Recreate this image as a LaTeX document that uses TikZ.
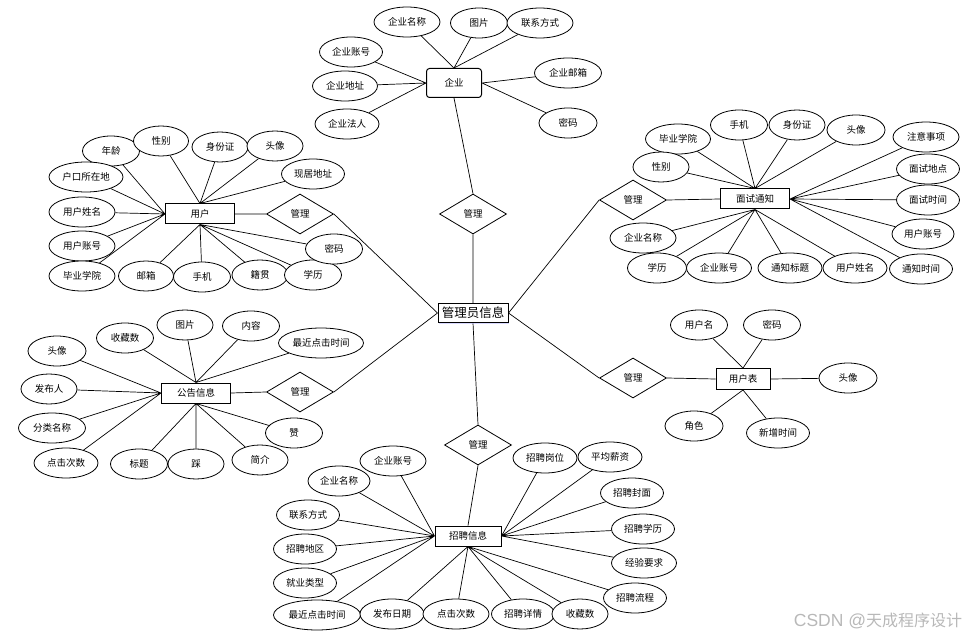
\documentclass[tikz,border=0pt]{standalone}
\usepackage{fontspec}
\setmainfont{Noto Sans CJK SC}
\newfontfamily\wmlatin{Liberation Sans}
\usetikzlibrary{shapes.geometric,backgrounds,shadows}

\begin{document}
\begin{tikzpicture}[x=1pt,y=-1pt,
  font=\fontsize{9.5}{10}\selectfont,
  attr/.style={ellipse,draw,fill=white,line width=0.8pt,inner sep=0pt,
              minimum width=#1,minimum height=30},
  attr/.default=57,
  ent/.style={rectangle,draw,fill=white,line width=1pt,inner sep=1pt,
              minimum width=69,minimum height=20},
  rel/.style={diamond,draw,fill=white,line width=0.8pt,inner sep=0pt,
              minimum width=67,minimum height=40},
  link/.style={line width=0.7pt}
]
\useasboundingbox (0,0) rectangle (975,639);

% Centre
\node[ent,minimum width=70,minimum height=19,font=\fontsize{12.5}{13}\selectfont,
      drop shadow={shadow xshift=1pt,shadow yshift=-1pt,fill=blue!25,opacity=0.6}]
      (admin) at (473,313) {管理员信息};

% Enterprise
\node[ent,rounded corners=3pt,minimum width=55,minimum height=29] (qy) at (454,83) {企业};
\node[attr=66] (qymc) at (407,22)  {企业名称};
\node[attr]    (qytp) at (479,23)  {图片};
\node[attr=66] (qylx) at (540,23)  {联系方式};
\node[attr=63] (qyzh) at (351,52)  {企业账号};
\node[attr=65] (qydz) at (345,86)  {企业地址};
\node[attr=64] (qyfr) at (347,124) {企业法人};
\node[attr=67] (qyyx) at (568,73)  {企业邮箱};
\node[attr=58] (qymm) at (568,123) {密码};
\node[rel]     (glqy) at (473,214) {管理};

% User
\node[ent] (yh) at (200,214) {用户};
\node[attr]    (yhnl)  at (111,151) {年龄};
\node[attr=55] (yhxb)  at (161,141) {性别};
\node[attr=56] (yhsfz) at (220,147) {身份证};
\node[attr=56] (yhtx)  at (275,146) {头像};
\node[attr=74] (yhhk)  at (86,177)  {户口所在地};
\node[attr=63] (yhxj)  at (313,174) {现居地址};
\node[attr=66] (yhxm)  at (82,212)  {用户姓名};
\node[attr=66] (yhzh)  at (82,246)  {用户账号};
\node[attr=66] (yhbx)  at (82,276)  {毕业学院};
\node[attr=55] (yhyx)  at (146,276) {邮箱};
\node[attr]    (yhsj)  at (202,277) {手机};
\node[attr=56] (yhjg)  at (260,275) {籍贯};
\node[attr]    (yhxl)  at (313,275) {学历};
\node[attr]    (yhmm)  at (334,249) {密码};
\node[rel]     (glyh)  at (300,214) {管理};

% Interview notice
\node[ent] (ms) at (755,199) {面试通知};
\node[attr=65] (msbx)  at (678,139) {毕业学院};
\node[attr]    (mssj)  at (739,125) {手机};
\node[attr=56] (mssfz) at (797,125) {身份证};
\node[attr=58] (mstx)  at (856,130) {头像};
\node[attr=66] (mszy)  at (926,137) {注意事项};
\node[attr=56] (msxb)  at (661,167) {性别};
\node[attr=63] (msdd)  at (928,169) {面试地点};
\node[attr=63] (mssx)  at (928,200) {面试时间};
\node[attr=62] (mszh)  at (923,234) {用户账号};
\node[attr=66] (msqy)  at (643,238) {企业名称};
\node[attr=59] (msxl)  at (657,268) {学历};
\node[attr=65] (msqz)  at (719,268) {企业账号};
\node[attr=64] (msbt)  at (790,268) {通知标题};
\node[attr=64] (msxm)  at (855,268) {用户姓名};
\node[attr=63] (mstz)  at (921,269) {通知时间};
\node[rel]     (glms)  at (633,200) {管理};

% Notice
\node[ent] (gg) at (196,393) {公告信息};
\node[attr=58] (ggtx)  at (57,351)  {头像};
\node[attr]    (ggsc)  at (125,338) {收藏数};
\node[attr=56] (ggtp)  at (185,325) {图片};
\node[attr]    (ggnr)  at (251,326) {内容};
\node[attr=85] (ggzj)  at (321,343) {最近点击时间};
\node[attr=56] (ggfb)  at (49,389)  {发布人};
\node[attr=67] (ggfl)  at (52,428)  {分类名称};
\node[attr=64] (ggdj)  at (66,463)  {点击次数};
\node[attr]    (ggbt)  at (139,464) {标题};
\node[attr=56] (ggcai) at (196,464) {踩};
\node[attr=56] (ggjj)  at (260,460) {简介};
\node[attr]    (ggzan) at (294,433) {赞};
\node[rel]     (glgg)  at (300,392) {管理};

% User table
\node[ent,minimum width=54,minimum height=21] (yhb) at (743,379) {用户表};
\node[attr]    (yhbm)  at (699,325) {用户名};
\node[attr]    (yhbmm) at (772,325) {密码};
\node[attr=58] (yhbtx) at (848,378) {头像};
\node[attr=58] (yhbjs) at (694,426) {角色};
\node[attr=63] (yhbxz) at (778,433) {新增时间};
\node[rel]     (glyhb) at (633,378) {管理};

% Recruitment
\node[ent,minimum width=66] (zp) at (468,536) {招聘信息};
\node[attr=66] (zpqz) at (393,461) {企业账号};
\node[attr=62] (zpqy) at (339,481) {企业名称};
\node[attr=64] (zpgw) at (545,458) {招聘岗位};
\node[attr=64] (zpxz) at (610,457) {平均薪资};
\node[attr=63] (zpfm) at (632,493) {招聘封面};
\node[attr=63] (zplx) at (308,515) {联系方式};
\node[attr=63] (zpxl) at (643,529) {招聘学历};
\node[attr=63] (zpdq) at (305,549) {招聘地区};
\node[attr=65] (zpjy) at (644,563) {经验要求};
\node[attr=63] (zplc) at (635,598) {招聘流程};
\node[attr=63] (zplb) at (305,583) {就业类型};
\node[attr=87] (zpzj) at (317,615) {最近点击时间};
\node[attr=64] (zprq) at (392,614) {发布日期};
\node[attr=66] (zpdj) at (456,614) {点击次数};
\node[attr=63] (zpxq) at (523,614) {招聘详情};
\node[attr=56] (zpsc) at (580,614) {收藏数};
\node[rel]     (glzp) at (478,445) {管理};

\node[text=black!28,font=\fontsize{16}{17}\selectfont] (wm) at (878,621)
     {{\wmlatin\fontsize{17.5}{18}\selectfont CSDN @}天成程序设计};

% Connectors
\begin{scope}[on background layer]
\draw[link] (qy.north) -- (qymc) (qy.north) -- (qytp) (qy.north) -- (qylx);
\draw[link] (qy.west) -- (qyzh) (qy.west) -- (qydz) (qy.west) -- (qyfr);
\draw[link] (qy.east) -- (qyyx) (qy.east) -- (qymm);
\draw[link] (qy.south) -- (glqy.north) (glqy.south) -- (admin.north);

\draw[link] (yh.west) -- (yhnl) (yh.west) -- (yhhk) (yh.west) -- (yhxm)
            (yh.west) -- (yhzh) (yh.west) -- (yhbx);
\draw[link] (yh.north) -- (yhxb) (yh.north) -- (yhsfz) (yh.north) -- (yhtx)
            (yh.north) -- (yhxj);
\draw[link] (yh.south) -- (yhyx) (yh.south) -- (yhsj) (yh.south) -- (yhjg)
            (yh.south) -- (yhxl) (yh.south) -- (yhmm);
\draw[link] (yh.east) -- (glyh.west) (glyh.east) -- (admin.west);

\draw[link] (ms.north) -- (msbx) (ms.north) -- (mssj) (ms.north) -- (mssfz)
            (ms.north) -- (mstx) (ms.north) -- (msxb);
\draw[link] (ms.east) -- (mszy) (ms.east) -- (msdd) (ms.east) -- (mssx)
            (ms.east) -- (mszh) (ms.east) -- (mstz);
\draw[link] (ms.south) -- (msqy) (ms.south) -- (msxl) (ms.south) -- (msqz)
            (ms.south) -- (msbt) (ms.south) -- (msxm);
\draw[link] (ms.west) -- (glms.east) (glms.west) -- (admin.east);

\draw[link] (gg.north) -- (ggsc) (gg.north) -- (ggtp) (gg.north) -- (ggnr)
            (gg.north) -- (ggzj);
\draw[link] (gg.west) -- (ggtx) (gg.west) -- (ggfb) (gg.west) -- (ggfl)
            (gg.west) -- (ggdj);
\draw[link] (gg.south) -- (ggbt) (gg.south) -- (ggcai) (gg.south) -- (ggjj)
            (gg.south) -- (ggzan);
\draw[link] (gg.east) -- (glgg.west) (glgg.east) -- (admin.west);

\draw[link] (yhb.north) -- (yhbm) (yhb.north) -- (yhbmm) (yhb.east) -- (yhbtx)
            (yhb.south) -- (yhbjs) (yhb.south) -- (yhbxz);
\draw[link] (yhb.west) -- (glyhb.east) (glyhb.west) -- (admin.east);

\draw[link] (zp.west) -- (zpqz) (zp.west) -- (zpqy) (zp.west) -- (zplx)
            (zp.west) -- (zpdq) (zp.west) -- (zplb) (zp.west) -- (zpzj);
\draw[link] (zp.east) -- (zpgw) (zp.east) -- (zpxz) (zp.east) -- (zpfm)
            (zp.east) -- (zpxl) (zp.east) -- (zpjy);
\draw[link] (zp.south) -- (zprq) (zp.south) -- (zpdj) (zp.south) -- (zpxq)
            (zp.south) -- (zpsc) (zp.south) -- (zplc);
\draw[link] (zp.north) -- (glzp.south) (glzp.north) -- (admin.south);
\end{scope}
\end{tikzpicture}
\end{document}
